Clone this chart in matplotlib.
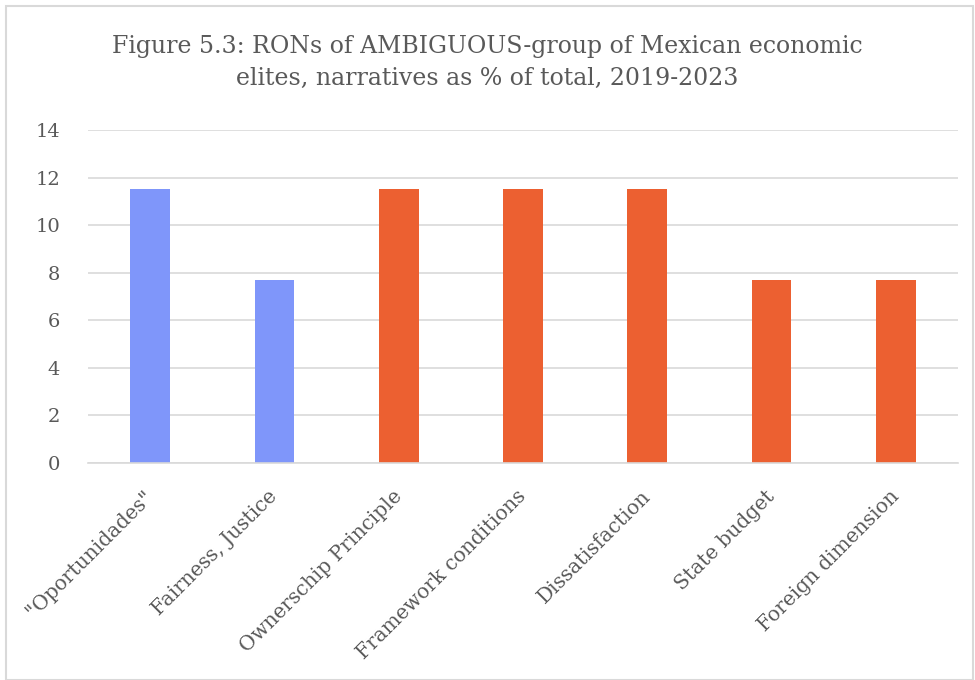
import matplotlib
matplotlib.use('Agg')
import matplotlib.pyplot as plt
from matplotlib.patches import Rectangle

categories = ['"Oportunidades"', 'Fairness, Justice', 'Ownerschip Principle',
              'Framework conditions', 'Dissatisfaction', 'State budget',
              'Foreign dimension']
values = [11.54, 7.69, 11.54, 11.54, 11.54, 7.69, 7.69]
bar_colors = ['#7F96FA', '#7F96FA', '#EC6031', '#EC6031', '#EC6031',
              '#EC6031', '#EC6031']
yticks = [0, 2, 4, 6, 8, 10, 12, 14]

plt.rcParams['font.family'] = ['DejaVu Serif']
text_color = '#595959'

fig = plt.figure(figsize=(9.75, 6.8), dpi=100)
ax = fig.add_axes([88/975, 1 - 463/680, (958 - 88)/975, (463 - 130)/680])

x = range(len(categories))
ax.bar(x, values, width=0.32, color=bar_colors, zorder=3)

ax.set_xlim(-0.5, len(categories) - 0.5)
ax.set_ylim(0, 14)
ax.set_yticks(yticks)
ax.set_yticklabels([str(v) for v in yticks], fontsize=14, color=text_color)
ax.set_xticks(list(x))
ax.set_xticklabels(categories, rotation=45, ha='right', va='center',
                   rotation_mode='anchor', fontsize=14.5, color=text_color)
ax.tick_params(axis='x', length=0, pad=22)
ax.tick_params(axis='y', length=0, pad=20)
ax.yaxis.grid(True, color='#D9D9D9', linewidth=1.2, zorder=0)
for s in ['top', 'right', 'left']:
    ax.spines[s].set_visible(False)
ax.spines['bottom'].set_color('#D9D9D9')
ax.spines['bottom'].set_linewidth(1.2)
ax.spines['bottom'].set_zorder(4)

fig.text(0.5, 1 - 62/680,
         'Figure 5.3: RONs of AMBIGUOUS-group of Mexican economic\nelites, narratives as % of total, 2019-2023',
         ha='center', va='center', fontsize=17, color=text_color, linespacing=1.5)

fig.patches.append(Rectangle((6/975, 0.0), 1 - 8/975, 1 - 6/680, transform=fig.transFigure,
                             fill=False, edgecolor='#D9D9D9', linewidth=1.5))

fig.savefig('out.png', dpi=100)
